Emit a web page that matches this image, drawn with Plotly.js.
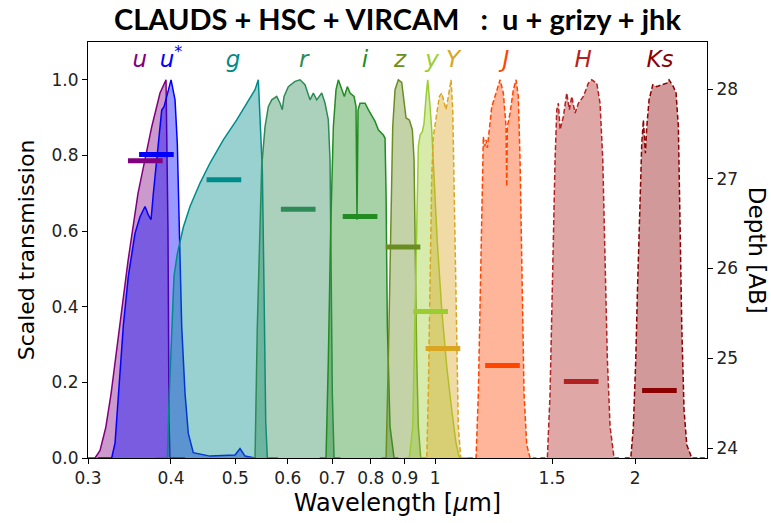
<!DOCTYPE html>
<html>
<head>
<meta charset="utf-8">
<script src="https://cdn.plot.ly/plotly-3.0.1.min.js"></script>
<style>
  html, body { margin: 0; padding: 0; background: #fff; }
  #chart { width: 771px; height: 523px; }
</style>
</head>
<body>
<div id="chart"></div>
<script>
// Filter transmission curves (wavelength in micron, scaled transmission)
const wl_u = [0.300, 0.3074, 0.3128, 0.3190, 0.3250, 0.3352, 0.3446, 0.3568, 0.3742, 0.3851, 0.3932, 0.3959, 0.3973, 0.3987, 0.420];
const tr_u = [0, 0, 0.02, 0.08, 0.17, 0.35, 0.52, 0.70, 0.876, 0.965, 1.0, 0.6, 0.1, 0, 0];

const wl_ustar = [0.310, 0.3257, 0.3295, 0.3332, 0.3391, 0.3450, 0.3531, 0.3593, 0.3656, 0.3698, 0.3733, 0.3763, 0.3807, 0.3851, 0.3874, 0.3905, 0.3950, 0.4001, 0.4057, 0.4089, 0.4117, 0.4152, 0.4200, 0.4248, 0.4322, 0.4580, 0.4995, 0.5082, 0.5171, 0.5354];
const tr_ustar = [0, 0, 0.04, 0.17, 0.35, 0.48, 0.594, 0.638, 0.665, 0.643, 0.63, 0.70, 0.788, 0.876, 0.92, 0.929, 0.965, 1.0, 0.947, 0.832, 0.612, 0.347, 0.171, 0.065, 0.014, 0.005, 0.008, 0.025, 0.005, 0];

const wl_g = [0.380, 0.3950, 0.3977, 0.4010, 0.4042, 0.4089, 0.4175, 0.4273, 0.4424, 0.4580, 0.4796, 0.5024, 0.5202, 0.5354, 0.5415, 0.5460, 0.5491, 0.5523, 0.5556, 0.5587, 0.580];
const tr_g = [0, 0, 0.17, 0.35, 0.48, 0.54, 0.61, 0.665, 0.727, 0.78, 0.841, 0.894, 0.938, 0.974, 1.0, 0.876, 0.762, 0.45, 0.097, 0, 0];

const wl_r = [0.520, 0.5354, 0.5396, 0.5479, 0.5543, 0.5606, 0.5673, 0.5772, 0.5839, 0.5885, 0.5920, 0.6009, 0.6150, 0.6258, 0.6367, 0.6479, 0.6553, 0.6631, 0.6747, 0.6825, 0.6903, 0.6944, 0.6968, 0.6999, 0.7041, 0.720];
const tr_r = [0, 0, 0.347, 0.771, 0.876, 0.929, 0.947, 0.956, 0.938, 0.921, 0.956, 0.982, 0.996, 1.0, 0.987, 0.947, 0.965, 0.947, 0.965, 0.938, 0.894, 0.788, 0.524, 0.171, 0, 0];

const wl_i = [0.670, 0.6848, 0.6903, 0.6961, 0.7024, 0.7090, 0.7147, 0.7231, 0.7297, 0.7374, 0.7443, 0.7547, 0.7599, 0.7625, 0.7652, 0.7705, 0.7840, 0.7930, 0.8025, 0.8117, 0.8210, 0.8354, 0.8403, 0.8433, 0.8471, 0.8550, 0.8670, 0.880];
const tr_i = [0, 0, 0.26, 0.612, 0.876, 0.974, 1.0, 0.974, 0.956, 0.982, 0.965, 0.956, 0.929, 0.63, 0.92, 0.938, 0.938, 0.921, 0.907, 0.89, 0.868, 0.854, 0.846, 0.70, 0.347, 0.083, 0, 0];

const wl_z = [0.830, 0.8433, 0.8500, 0.8571, 0.8630, 0.8700, 0.8800, 0.8904, 0.8976, 0.9038, 0.9142, 0.9238, 0.9293, 0.9335, 0.9380, 0.9432, 0.9511, 0.970];
const tr_z = [0, 0, 0.26, 0.612, 0.876, 0.974, 1.0, 0.993, 0.947, 0.899, 0.894, 0.868, 0.788, 0.524, 0.26, 0.083, 0, 0];

const wl_y = [0.900, 0.9142, 0.9251, 0.9324, 0.9380, 0.9432, 0.9488, 0.9563, 0.9620, 0.9687, 0.9744, 0.9823, 0.9880, 0.9959, 1.0075, 1.0229, 1.0408, 1.0590, 1.0749, 1.0874, 1.110];
const tr_y = [0, 0, 0.083, 0.347, 0.612, 0.824, 0.854, 0.863, 0.885, 0.956, 1.0, 0.929, 0.868, 0.744, 0.568, 0.392, 0.242, 0.127, 0.039, 0, 0];

const wl_Y = [0.950, 0.9710, 0.9764, 0.9823, 0.9880, 0.9935, 1.0029, 1.0144, 1.0229, 1.0311, 1.0382, 1.0466, 1.0565, 1.0627, 1.0675, 1.0749, 1.0835, 1.0926, 1.120];
const tr_Y = [0, 0, 0.17, 0.48, 0.744, 0.85, 0.903, 0.956, 0.965, 0.938, 0.921, 0.956, 1.0, 0.921, 0.70, 0.347, 0.083, 0, 0];

const wl_J = [1.120, 1.1521, 1.1613, 1.1710, 1.1775, 1.1816, 1.1874, 1.1927, 1.1981, 1.2166, 1.2349, 1.2521, 1.2665, 1.2784, 1.2815, 1.2842, 1.2963, 1.3112, 1.3235, 1.3341, 1.3421, 1.3513, 1.3608, 1.3735, 1.3895, 1.420];
const tr_J = [0, 0, 0.17, 0.524, 0.788, 0.85, 0.824, 0.841, 0.82, 0.929, 0.965, 1.0, 0.965, 0.876, 0.718, 0.876, 0.912, 0.974, 1.0, 0.956, 0.788, 0.436, 0.17, 0.035, 0, 0];

const wl_H = [1.440, 1.4754, 1.4892, 1.5034, 1.5153, 1.5244, 1.5328, 1.5418, 1.5597, 1.5780, 1.5923, 1.6057, 1.6241, 1.6429, 1.6715, 1.7007, 1.7209, 1.7510, 1.7712, 1.7879, 1.8022, 1.8166, 1.8337, 1.8593, 1.900];
const tr_H = [0, 0, 0.17, 0.524, 0.788, 0.921, 0.938, 0.868, 0.903, 0.965, 0.921, 0.956, 0.912, 0.938, 0.956, 0.991, 1.0, 0.991, 0.938, 0.788, 0.524, 0.26, 0.083, 0, 0];

const wl_Ks = [1.930, 1.9702, 1.9880, 2.0046, 2.0159, 2.0298, 2.0467, 2.0582, 2.0725, 2.0826, 2.0992, 2.1264, 2.1559, 2.1937, 2.2320, 2.2500, 2.2837, 2.3053, 2.3238, 2.3376, 2.3513, 2.3700, 2.3924, 2.4342, 2.560];
const tr_Ks = [0, 0, 0.083, 0.26, 0.436, 0.612, 0.832, 0.894, 0.806, 0.876, 0.947, 0.987, 0.982, 0.987, 0.991, 1.0, 0.982, 0.965, 0.876, 0.612, 0.347, 0.127, 0.035, 0, 0];

// Filter names, label placement and survey depths
const filterNames = ['u', 'u*', 'g', 'r', 'i', 'z', 'y', 'Y', 'J', 'H', 'Ks'];
const labelText = ['u', 'u<sup>*</sup>', 'g', 'r', 'i', 'z', 'y', 'Y', 'J', 'H', 'Ks'];
const labelWave = [0.359, 0.400, 0.496, 0.634, 0.784, 0.885, 0.989, 1.064, 1.278, 1.670, 2.180];
const depthWave = [0.3666, 0.381, 0.4815, 0.623, 0.772, 0.896, 0.986, 1.029, 1.265, 1.662, 2.180];
const depthMag = [27.20, 27.27, 26.99, 26.66, 26.58, 26.24, 25.52, 25.11, 24.92, 24.74, 24.64];

const xTicks = [0.3, 0.4, 0.5, 0.6, 0.7, 0.8, 0.9, 1, 1.5, 2];
const xTickText = ['0.3', '0.4', '0.5', '0.6', '0.7', '0.8', '0.9', '1', '1.5', '2'];

const curves = [
  [wl_u, tr_u], [wl_ustar, tr_ustar], [wl_g, tr_g], [wl_r, tr_r], [wl_i, tr_i],
  [wl_z, tr_z], [wl_y, tr_y], [wl_Y, tr_Y], [wl_J, tr_J], [wl_H, tr_H], [wl_Ks, tr_Ks]
];
const colors = [
  [128, 0, 128], [0, 0, 255], [0, 139, 139], [46, 139, 87], [34, 139, 34],
  [107, 142, 35], [154, 205, 50], [218, 165, 32], [255, 69, 0], [178, 34, 34], [139, 0, 0]
];
// VIRCAM bands are drawn dashed
const dashed = [false, false, false, false, false, false, false, true, true, true, true];

const rgb = c => `rgb(${c[0]},${c[1]},${c[2]})`;
const rgba = (c, a) => `rgba(${c[0]},${c[1]},${c[2]},${a})`;

const traces = [];
curves.forEach((cv, k) => {
  traces.push({
    type: 'scatter', mode: 'lines',
    x: cv[0], y: cv[1],
    fill: 'tozeroy',
    fillcolor: rgba(colors[k], 0.4),
    line: { color: rgb(colors[k]), width: 1.5, dash: dashed[k] ? '5px,2.5px' : 'solid' },
    name: filterNames[k], hoverinfo: 'skip', showlegend: false
  });
});

// Depth markers on the right-hand magnitude axis
depthWave.forEach((w, k) => {
  traces.push({
    type: 'scatter', mode: 'lines',
    x: [w * 0.94, w * 1.06], y: [depthMag[k], depthMag[k]],
    yaxis: 'y2',
    line: { color: rgb(colors[k]), width: 5 },
    name: filterNames[k] + ' depth', hoverinfo: 'skip', showlegend: false
  });
});

// Band names along the top
traces.push({
  type: 'scatter', mode: 'text',
  x: labelWave, y: labelWave.map(() => 1.05),
  text: labelText.map(t => '<i>' + t + '</i>'),
  textposition: 'middle center',
  textfont: { family: 'DejaVu Sans', size: 23, color: colors.map(rgb) },
  hoverinfo: 'skip', showlegend: false
});

const axisFont = { family: 'DejaVu Sans', size: 17, color: '#222' };

const layout = {
  width: 771, height: 523,
  margin: { l: 88, r: 64, t: 42, b: 65 },
  paper_bgcolor: '#fff', plot_bgcolor: '#fff',
  showlegend: false,
  title: {
    text: 'CLAUDS + HSC + VIRCAM\u00a0\u00a0 :\u00a0 u + grizy + jhk',
    font: { family: 'Lato', size: 29, weight: 700, color: '#000' },
    x: 0.5, xref: 'paper', xanchor: 'center',
    y: 0.962, yref: 'container', yanchor: 'middle'
  },
  xaxis: {
    type: 'log',
    range: [Math.log10(0.3), 0.4093],
    tickvals: xTicks, ticktext: xTickText,
    ticks: 'outside', ticklen: 5, tickwidth: 1, tickcolor: '#000',
    showline: true, linecolor: '#000', linewidth: 1, mirror: true,
    showgrid: false, zeroline: false,
    tickfont: axisFont,
    title: { text: 'Wavelength [<i>μ</i>m]', font: { family: 'DejaVu Sans', size: 24, color: '#000' }, standoff: 6 }
  },
  yaxis: {
    range: [0, 1.1],
    tickvals: [0, 0.2, 0.4, 0.6, 0.8, 1.0],
    tickformat: '.1f',
    ticks: 'outside', ticklen: 5, tickwidth: 1, tickcolor: '#000',
    showline: true, linecolor: '#000', linewidth: 1, mirror: true,
    showgrid: false, zeroline: false,
    tickfont: axisFont,
    title: { text: 'Scaled transmission', font: { family: 'DejaVu Sans', size: 22, color: '#000' }, standoff: 10 }
  },
  yaxis2: {
    overlaying: 'y', side: 'right',
    range: [23.889, 28.524],
    tickvals: [24, 25, 26, 27, 28],
    ticks: 'outside', ticklen: 5, tickwidth: 1, tickcolor: '#000',
    showline: true, linecolor: '#000', linewidth: 1,
    showgrid: false, zeroline: false,
    tickfont: axisFont
  },
  annotations: [{
    text: 'Depth [AB]', textangle: 90,
    xref: 'paper', yref: 'paper', x: 1.081, y: 0.5,
    xanchor: 'center', yanchor: 'middle', showarrow: false,
    font: { family: 'DejaVu Sans', size: 23, color: '#000' }
  }]
};

Plotly.newPlot('chart', traces, layout, { staticPlot: true, displayModeBar: false });
</script>
</body>
</html>
